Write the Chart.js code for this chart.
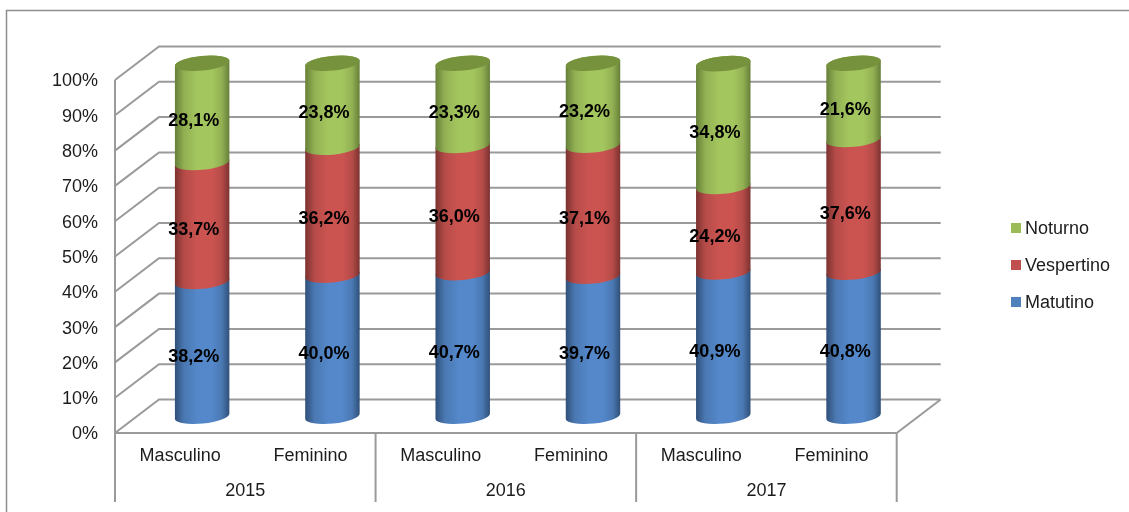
<!DOCTYPE html>
<html><head><meta charset="utf-8">
<style>html,body{margin:0;padding:0;background:#fff}#w{width:1129px;height:512px;position:relative}</style>
<script src="https://cdn.jsdelivr.net/npm/chart.js@4/dist/chart.umd.min.js"></script>
</head><body><div id="w"><canvas id="c" width="1129" height="512"></canvas></div>
<script>
const categories = ['Masculino','Feminino','Masculino','Feminino','Masculino','Feminino'];
const years = ['2015','2016','2017'];
const matutino = [38.2,40.0,40.7,39.7,40.9,40.8];
const vespertino = [33.7,36.2,36.0,37.1,24.2,37.6];
const noturno = [28.1,23.8,23.3,23.2,34.8,21.6];

const FONT = '"Liberation Sans", Arial, sans-serif';
const GRID = '#9a9a9a', TEXT = '#1c1c1c';
const DEPTH = {x:44, y:-33.5};
const fmt = v => v.toFixed(1).replace('.',',') + '%';
const shades = [
  {flat:'#4F81BD', edge:'#2F4F78', mid:'#4A78B2', light:'#5488CA'},
  {flat:'#C0504D', edge:'#7A3230', mid:'#B54B48', light:'#CB5451'},
  {flat:'#9BBB59', edge:'#657F38', mid:'#92B053', light:'#A4C65E'}
];

function drawCylinders(chart){
  const c = chart.ctx, rot = -0.097, ry = 7.4, last = chart.data.datasets.length - 1;
  chart.data.datasets.forEach((ds, idx) => {
    const s = shades[idx];
    chart.getDatasetMeta(idx).data.forEach(el => {
      const rx = el.width / 2, cx = el.x + DEPTH.x / 2;
      const topY = el.y + DEPTH.y / 2, baseY = el.base + DEPTH.y / 2;
      const g = c.createLinearGradient(cx - rx, 0, cx + rx, 0);
      g.addColorStop(0, s.edge); g.addColorStop(0.17, s.mid); g.addColorStop(0.42, s.light);
      g.addColorStop(0.68, s.light); g.addColorStop(0.86, s.mid); g.addColorStop(1, s.edge);
      c.save();
      c.fillStyle = g;
      c.beginPath();
      c.ellipse(cx, baseY, rx, ry, rot, 0, Math.PI, false);
      c.ellipse(cx, topY, rx, ry, rot, Math.PI, Math.PI * 2, false);
      c.closePath();
      c.fill();
      if (idx === last) {
        c.fillStyle = '#76923C';
        c.beginPath();
        c.ellipse(cx, topY, rx, ry, rot, 0, Math.PI * 2);
        c.fill();
      }
      c.restore();
    });
  });
}

const plugin3d = {
  id:'plugin3d',
  beforeDraw(chart){
    const c = chart.ctx;
    c.save();
    c.strokeStyle = '#8e8e8e'; c.lineWidth = 1.5;
    c.beginPath(); c.moveTo(6.5,512); c.lineTo(6.5,10.5); c.lineTo(1129,10.5); c.stroke();
    c.restore();
  },
  beforeDatasetsDraw(chart){
    const c = chart.ctx, y = chart.scales.y, a = chart.chartArea, x2 = chart.scales.x2;
    c.save();
    c.strokeStyle = GRID; c.lineWidth = 2;
    c.beginPath();
    y.ticks.forEach(t => {
      const py = y.getPixelForValue(t.value);
      c.moveTo(a.left, py);
      c.lineTo(a.left + DEPTH.x, py + DEPTH.y);
      c.lineTo(a.right + DEPTH.x, py + DEPTH.y);
    });
    c.moveTo(a.left, a.top); c.lineTo(a.left, a.bottom); c.lineTo(a.right, a.bottom);
    c.lineTo(a.right + DEPTH.x, a.bottom + DEPTH.y);
    const half = (x2.getPixelForValue(1) - x2.getPixelForValue(0)) / 2;
    [0,1,2].forEach(i => { c.moveTo(x2.getPixelForValue(i) - half, a.bottom); c.lineTo(x2.getPixelForValue(i) - half, x2.bottom - 10); });
    c.moveTo(a.right, a.bottom); c.lineTo(a.right, x2.bottom - 10);
    c.stroke();
    c.restore();
    drawCylinders(chart);
  },
  beforeDatasetDraw(){ return false; },
  afterDatasetsDraw(chart){
    const c = chart.ctx;
    c.save();
    c.font = 'bold 18px ' + FONT; c.fillStyle = '#000';
    c.textAlign = 'center'; c.textBaseline = 'middle';
    chart.data.datasets.forEach((ds, i) => {
      chart.getDatasetMeta(i).data.forEach((el, j) => {
        c.fillText(fmt(ds.data[j]), el.x + 13.6, (el.y + el.base) / 2 - 8.5);
      });
    });
    c.restore();
  },
  afterDraw(chart){
    const c = chart.ctx;
    c.save();
    c.font = '18px ' + FONT; c.textBaseline = 'middle'; c.textAlign = 'left';
    const ys = [228, 265, 302];
    [...chart.data.datasets].reverse().forEach((ds, i) => {
      c.fillStyle = ds.backgroundColor;
      c.fillRect(1011, ys[i] - 5, 10, 10);
      c.fillStyle = TEXT;
      c.fillText(ds.label, 1025, ys[i] + 1);
    });
    c.restore();
  }
};

function nudgeLabels(s){
  if (s._nudged) return;
  s._nudged = true;
  const d = s.drawLabels;
  s.drawLabels = function(a){ const c = this.ctx; c.save(); c.translate(0, 1.5); d.call(this, a); c.restore(); };
}

new Chart(document.getElementById('c'), {
  type:'bar',
  data:{labels:categories, datasets:[
    {label:'Matutino', data:matutino, backgroundColor:shades[0].flat},
    {label:'Vespertino', data:vespertino, backgroundColor:shades[1].flat},
    {label:'Noturno', data:noturno, backgroundColor:shades[2].flat}
  ]},
  options:{
    responsive:false, animation:false,
    layout:{padding:{left:0,top:80,right:232.3,bottom:0}},
    datasets:{bar:{barPercentage:0.42,categoryPercentage:1}},
    plugins:{legend:{display:false},title:{display:false},tooltip:{enabled:false}},
    scales:{
      x:{stacked:true, weight:0, grid:{display:false}, border:{display:false},
         ticks:{autoSkip:false,maxRotation:0,padding:4,color:TEXT,font:{family:FONT,size:18}},
         afterFit:s=>{s.height=39;}},
      x2:{type:'category', labels:years, position:'bottom', weight:1, offset:true, grid:{display:false}, border:{display:false},
         ticks:{autoSkip:false,maxRotation:0,padding:0,color:TEXT,font:{family:FONT,size:18}},
         afterFit:s=>{s.height=40;}},
      y:{stacked:true, min:0, max:100, grid:{display:false}, border:{display:false},
         ticks:{stepSize:10,padding:9,color:TEXT,font:{family:FONT,size:18},callback:v=>v+'%'},
         afterFit:s=>{s.width=115; nudgeLabels(s);}}
    }
  },
  plugins:[plugin3d]
});
</script></body></html>
